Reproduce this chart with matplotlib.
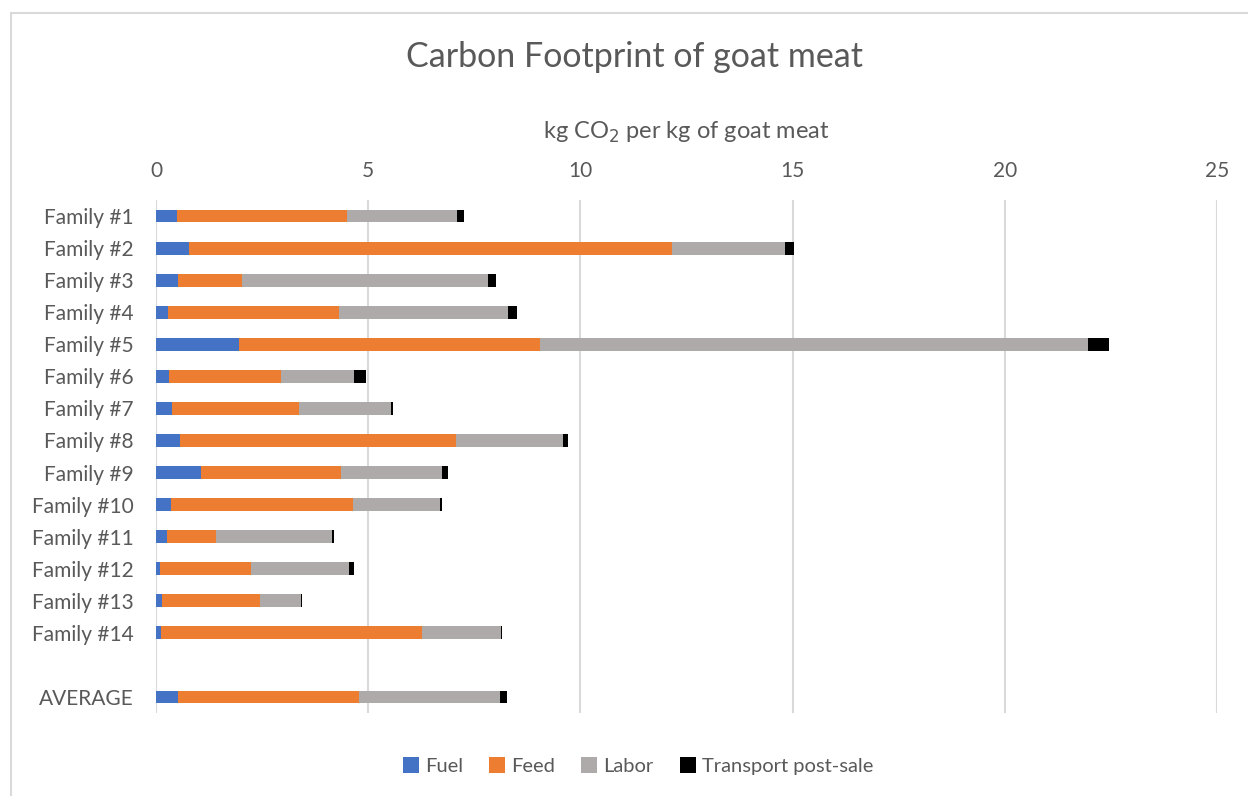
import numpy as np
import matplotlib.pyplot as plt
from matplotlib.patches import Rectangle, Patch

plt.rcParams['font.family'] = ['Lato', 'DejaVu Sans']

families = ['Family #1', 'Family #2', 'Family #3', 'Family #4', 'Family #5',
            'Family #6', 'Family #7', 'Family #8', 'Family #9', 'Family #10',
            'Family #11', 'Family #12', 'Family #13', 'Family #14', '', 'AVERAGE']

# kg CO2 per kg of goat meat, by source (blank row before the average)
fuel = [0.50, 0.78, 0.53, 0.29, 1.96, 0.31, 0.38, 0.57, 1.06, 0.35, 0.27, 0.09, 0.15, 0.11, 0, 0.53]
feed = [3.99, 11.37, 1.49, 4.02, 7.09, 2.63, 2.99, 6.51, 3.30, 4.30, 1.15, 2.15, 2.29, 6.16, 0, 4.25]
labor = [2.61, 2.67, 5.80, 3.98, 12.91, 1.73, 2.17, 2.52, 2.39, 2.04, 2.73, 2.30, 0.98, 1.87, 0, 3.33]
transport = [0.16, 0.21, 0.20, 0.22, 0.49, 0.27, 0.04, 0.10, 0.14, 0.05, 0.04, 0.13, 0.02, 0.02, 0, 0.15]

series = [('Fuel', fuel, '#4472C4'),
          ('Feed', feed, '#ED7D31'),
          ('Labor', labor, '#AEAAAA'),
          ('Transport post-sale', transport, '#000000')]

text_col = '#595959'
grid_col = '#D9D9D9'

fig = plt.figure(figsize=(12.48, 7.96), dpi=100)
ax = fig.add_axes([156 / 1248, 1 - 713 / 796, (1217 - 156) / 1248, 513 / 796])

# chart frame
fig.patches.append(Rectangle((11 / 1248, -0.1), 1.2, 1 - 13 / 796 + 0.1,
                             transform=fig.transFigure, fill=False,
                             edgecolor=grid_col, linewidth=1.5, zorder=0))

y = np.arange(len(families))
left = np.zeros(len(families))
for name, vals, col in series:
    vals = np.array(vals)
    ax.barh(y, vals, left=left, height=0.4, color=col, label=name, zorder=3)
    left += vals

ax.set_xlim(0, 25)
ax.set_ylim(len(families) - 0.5, -0.5)
ax.set_xticks([0, 5, 10, 15, 20, 25])
ax.set_yticks(y)
ax.set_yticklabels(families)
ax.xaxis.tick_top()
ax.tick_params(axis='both', length=0, labelsize=15, labelcolor=text_col)
ax.tick_params(axis='x', pad=14)
ax.tick_params(axis='y', pad=16)
ax.grid(axis='x', color=grid_col, linewidth=1.5, zorder=0)
for s in ax.spines.values():
    s.set_visible(False)

fig.text(686 / 1248, 1 - 132 / 796, 'kg CO$_2$ per kg of goat meat', ha='center', va='center',
         fontsize=17, color=text_col)
fig.text(635 / 1248, 1 - 57 / 796, 'Carbon Footprint of goat meat', ha='center', va='center',
         fontsize=24.5, color=text_col)

handles = [Patch(facecolor=c, label=n) for n, _, c in series]
fig.legend(handles=handles, loc='center', bbox_to_anchor=(638 / 1248, 1 - 766 / 796),
           ncol=4, frameon=False, fontsize=14.5, labelcolor=text_col,
           handlelength=0.8, handleheight=0.8, handletextpad=0.3, columnspacing=1.3)

fig.savefig('out.png', dpi=100)
